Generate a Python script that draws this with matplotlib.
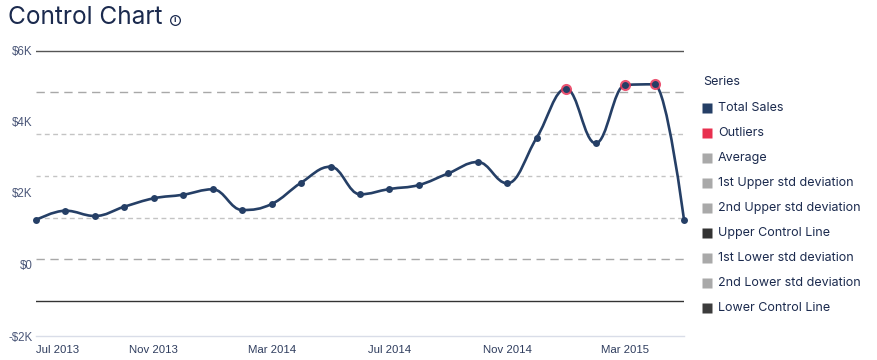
import numpy as np
import matplotlib
matplotlib.use("Agg")
import matplotlib.pyplot as plt
from matplotlib.path import Path
from matplotlib.patches import PathPatch
from matplotlib.lines import Line2D

# ---------------- data ----------------
months = ["Jul 2013", "Aug 2013", "Sep 2013", "Oct 2013", "Nov 2013", "Dec 2013",
          "Jan 2014", "Feb 2014", "Mar 2014", "Apr 2014", "May 2014", "Jun 2014",
          "Jul 2014", "Aug 2014", "Sep 2014", "Oct 2014", "Nov 2014", "Dec 2014",
          "Jan 2015", "Feb 2015", "Mar 2015", "Apr 2015", "May 2015"]
total_sales = [1245, 1505, 1357, 1617, 1852, 1952, 2103, 1524, 1692, 2288, 2736, 1964,
               2112, 2224, 2551, 2867, 2271, 3547, 4917, 3390, 5021, 5040, 1245]
tick_labels = ["Jul 2013", "Nov 2013", "Mar 2014", "Jul 2014", "Nov 2014", "Mar 2015"]
y_ticks = [-2000, 0, 2000, 4000, 6000]
y_tick_labels = ["-$2K", "$0", "$2K", "$4K", "$6K"]
legend_names = ["Total Sales", "Outliers", "Average", "1st Upper std deviation",
                "2nd Upper std deviation", "Upper Control Line", "1st Lower std deviation",
                "2nd Lower std deviation", "Lower Control Line"]
legend_colors = ["#253f66", "#e8304f", "#a9a9a9", "#a9a9a9", "#a9a9a9", "#333333",
                 "#a9a9a9", "#a9a9a9", "#3c3c3c"]

# ---------------- derived stats ----------------
vals = np.array(total_sales, dtype=float)
avg = vals.mean()
std = vals.std(ddof=1)
x = np.arange(len(vals), dtype=float)
outlier_mask = np.abs(vals - avg) > 2 * std

NAVY = "#253f66"
TEXT = "#1b2a4e"

fig = plt.figure(figsize=(8.78, 3.60), dpi=100)
ax = fig.add_axes([36 / 878, 1 - 336 / 360, (684 - 36) / 878, (336 - 50) / 360])
ax.set_xlim(0, len(vals) - 1)
ax.set_ylim(-2000, 6000)

# control lines
ax.axhline(avg + 3 * std, color="#555555", lw=1.0, zorder=1)
ax.axhline(avg - 3 * std, color="#333333", lw=1.0, zorder=1)
ax.axhline(avg + 2 * std, color="#a8a8a8", lw=1.0, dashes=(6, 4), zorder=1)
ax.axhline(avg - 2 * std, color="#a8a8a8", lw=1.0, dashes=(6, 4), zorder=1)
ax.axhline(avg + 1 * std, color="#c4c4c4", lw=1.0, dashes=(3.5, 2.5), zorder=1)
ax.axhline(avg - 1 * std, color="#c4c4c4", lw=1.0, dashes=(3.5, 2.5), zorder=1)
ax.axhline(avg, color="#c4c4c4", lw=1.0, dashes=(3, 3), zorder=1)


# smoothed line (Highcharts-like spline)
def spline_path(xs, ys, smoothing=1.5):
    n = len(xs)
    left = [None] * n
    right = [None] * n
    d = smoothing + 1
    for i in range(1, n - 1):
        lx, ly = xs[i - 1], ys[i - 1]
        px, py = xs[i], ys[i]
        nx, ny = xs[i + 1], ys[i + 1]
        lcx = (smoothing * px + lx) / d
        lcy = (smoothing * py + ly) / d
        rcx = (smoothing * px + nx) / d
        rcy = (smoothing * py + ny) / d
        corr = ((rcy - lcy) * (rcx - px)) / (rcx - lcx) + py - rcy
        lcy += corr
        rcy += corr
        if lcy > ly and lcy > py:
            lcy = max(ly, py); rcy = 2 * py - lcy
        elif lcy < ly and lcy < py:
            lcy = min(ly, py); rcy = 2 * py - lcy
        if rcy > ny and rcy > py:
            rcy = max(ny, py); lcy = 2 * py - rcy
        elif rcy < ny and rcy < py:
            rcy = min(ny, py); lcy = 2 * py - rcy
        left[i] = (lcx, lcy)
        right[i] = (rcx, rcy)
    verts = [(xs[0], ys[0])]
    codes = [Path.MOVETO]
    for i in range(1, n):
        c1 = right[i - 1] if right[i - 1] is not None else (xs[i - 1], ys[i - 1])
        c2 = left[i] if left[i] is not None else (xs[i], ys[i])
        verts += [c1, c2, (xs[i], ys[i])]
        codes += [Path.CURVE4] * 3
    return Path(verts, codes)


patch = PathPatch(spline_path(x, vals), facecolor="none", edgecolor=NAVY, lw=1.9,
                  zorder=3, capstyle="round", joinstyle="round")
patch.set_clip_on(False)
ax.add_patch(patch)

ax.plot(x[outlier_mask], vals[outlier_mask], "o", ms=8, color="#e8375a", alpha=0.85,
        mec="none", zorder=4, clip_on=False)
ax.plot(x, vals, "o", ms=5, color=NAVY, mec="none", zorder=5, clip_on=False)

# axes styling
for s in ["top", "right", "left"]:
    ax.spines[s].set_visible(False)
ax.spines["bottom"].set_color("#d9dde8")
ax.spines["bottom"].set_linewidth(1.0)
ax.set_yticks(y_ticks)
ax.set_yticklabels(y_tick_labels, fontfamily="Liberation Sans", fontsize=8.3, color="#4a5678")
tick_pos = [months.index(t) for t in tick_labels]
ax.set_xticks(tick_pos)
ax.set_xticklabels(tick_labels, fontfamily="Liberation Sans", fontsize=8.2, color="#2f3d5e")
ax.tick_params(axis="both", length=0)
ax.tick_params(axis="y", pad=2.5)
ax.tick_params(axis="x", pad=6.5)
ax.get_xticklabels()[0].set_horizontalalignment("left")

# title
fig.text(8 / 878, 1 - 18 / 360, "Control Chart", fontfamily="Inter",
         fontsize=17.6, color=TEXT, va="center", ha="left")
fig.add_artist(Line2D([175 / 878], [1 - 20 / 360], marker="o", ms=7, mfc="none",
                      mec=TEXT, mew=0.9, transform=fig.transFigure))
fig.text(175 / 878, 1 - 20 / 360, "i", fontfamily="DejaVu Sans", fontsize=5,
         fontweight="bold", color=TEXT, ha="center", va="center")

# legend
fig.text(703 / 878, 1 - 82 / 360, "Series", fontfamily="Inter", fontsize=9,
         color=TEXT, va="center", ha="left")
for k, (name, col) in enumerate(zip(legend_names, legend_colors)):
    yy = 1 - (108 + 25 * k) / 360
    fig.add_artist(Line2D([707.5 / 878], [yy], marker="s", ms=6.8, color=col, mec="none",
                          transform=fig.transFigure))
    fig.text(718 / 878, yy, name, fontfamily="Inter", fontsize=9, color=TEXT,
             va="center", ha="left")

fig.savefig("out.png", dpi=100)
